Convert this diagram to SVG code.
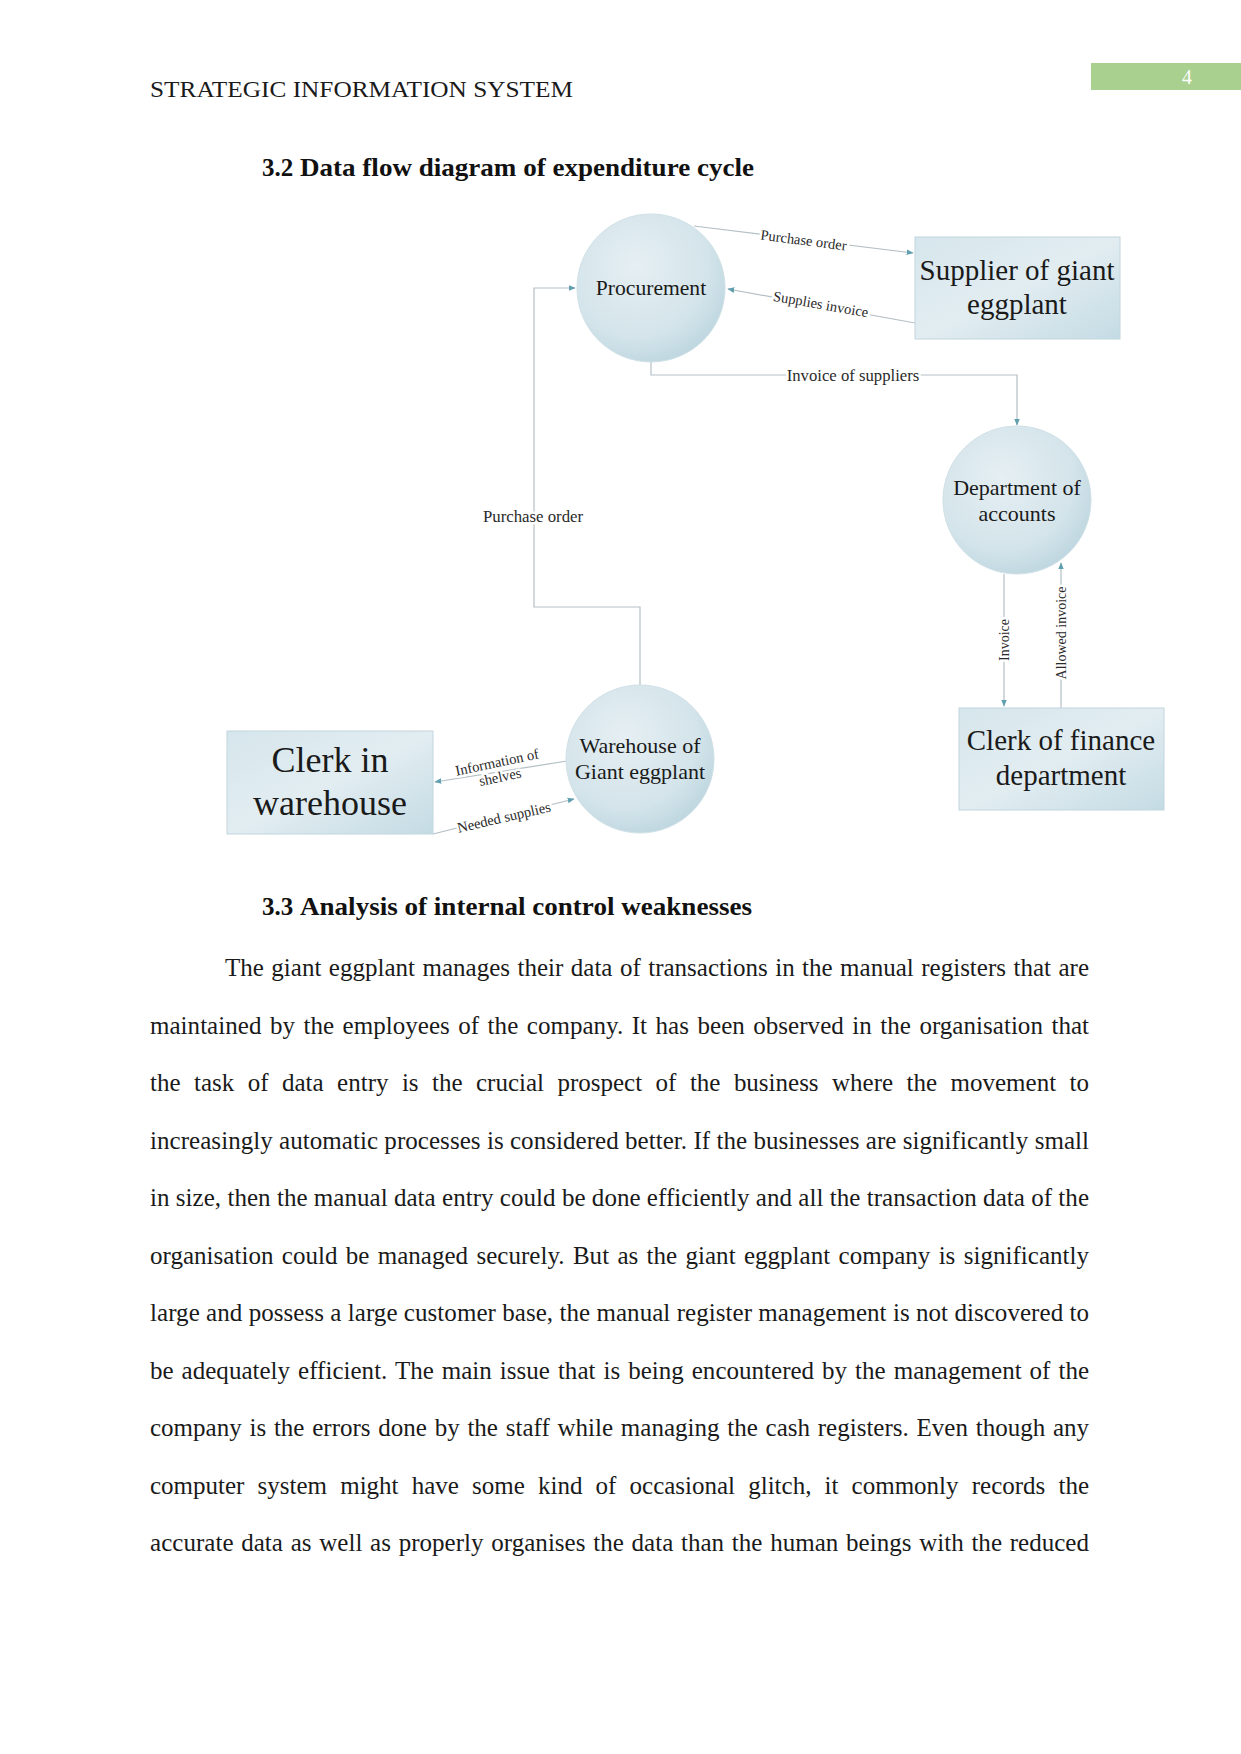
<svg xmlns="http://www.w3.org/2000/svg" width="1241" height="1754" viewBox="0 0 1241 1754">
<defs>
<radialGradient id="cg" cx="40%" cy="35%" r="70%">
<stop offset="0" stop-color="#e6eff3"/>
<stop offset="0.7" stop-color="#d3e4ea"/>
<stop offset="1" stop-color="#bcd5df"/>
</radialGradient>
<linearGradient id="bg" x1="0" y1="0" x2="1" y2="1">
<stop offset="0" stop-color="#d6e6ec"/>
<stop offset="0.5" stop-color="#e2edf1"/>
<stop offset="1" stop-color="#c4dbe4"/>
</linearGradient>
<marker id="ar" viewBox="0 0 10 10" refX="9" refY="5" markerWidth="7" markerHeight="7" orient="auto-start-reverse" markerUnits="userSpaceOnUse">
<path d="M0,1 L10,5 L0,9 Z" fill="#5f9fae"/>
</marker>
<style>
.proc{fill:url(#cg);stroke:#cfe0e6;stroke-width:1}
.ext{fill:url(#bg);stroke:#c2d6de;stroke-width:1}
.nt{font-family:"Liberation Serif",serif;fill:#1a1a1a;text-anchor:middle}
.cn{fill:none;stroke:#b4c0c5;stroke-width:1.2}
.lb{font-family:"Liberation Serif",serif;fill:#2a2a2a;text-anchor:middle;stroke:#fff;stroke-width:5;paint-order:stroke;stroke-linejoin:round}
.body{font-family:"Liberation Serif",serif;font-size:25px;fill:#1a1a1a}
.hd{font-family:"Liberation Serif",serif;font-size:25px;font-weight:bold;fill:#111}
</style>
</defs>
<rect width="1241" height="1754" fill="#fff"/>
<g id="header">
<text x="150" y="97" font-family="Liberation Serif, serif" font-size="23" fill="#1a1a1a" textLength="423" lengthAdjust="spacingAndGlyphs">STRATEGIC INFORMATION SYSTEM</text>
<rect x="1091" y="63" width="150" height="27" fill="#a9d08e"/>
<text x="1187" y="84" font-family="Liberation Serif, serif" font-size="20" fill="#fff" text-anchor="middle">4</text>
</g>
<g id="heading1"><text class="hd" x="262" y="176">3.2</text><text class="hd" x="300" y="176" textLength="454" lengthAdjust="spacingAndGlyphs">Data flow diagram of expenditure cycle</text></g>

<g id="connectors">
<line class="cn" x1="694" y1="226" x2="913" y2="253" marker-end="url(#ar)"/>
<line class="cn" x1="915" y1="323" x2="728" y2="289" marker-end="url(#ar)"/>
<polyline class="cn" points="651,362 651,375 1017,375 1017,425" marker-end="url(#ar)"/>
<polyline class="cn" points="640,685 640,607 534,607 534,288 575,288" marker-end="url(#ar)"/>
<line class="cn" x1="1004" y1="574" x2="1004" y2="706" marker-end="url(#ar)"/>
<line class="cn" x1="1061" y1="708" x2="1061" y2="563" marker-end="url(#ar)"/>
<line class="cn" x1="567" y1="761" x2="435" y2="782" marker-end="url(#ar)"/>
<line class="cn" x1="433" y1="834" x2="574" y2="799" marker-end="url(#ar)"/>
<text class="lb" font-size="14.5" transform="translate(803,245) rotate(7.3)">Purchase order</text>
<text class="lb" font-size="14.5" transform="translate(820,309) rotate(10)">Supplies invoice</text>
<text class="lb" font-size="16.7" x="853" y="381">Invoice of suppliers</text>
<text class="lb" font-size="16.8" x="533" y="522">Purchase order</text>
<text class="lb" font-size="14" transform="translate(1009,640) rotate(-90)">Invoice</text>
<text class="lb" font-size="14" transform="translate(1066,633) rotate(-90)">Allowed invoice</text>
<text class="lb" font-size="14.5" transform="translate(498,767) rotate(-12)"><tspan x="0" dy="0">Information of</tspan><tspan x="0" dy="15">shelves</tspan></text>
<text class="lb" font-size="14.5" transform="translate(505,822) rotate(-13)">Needed supplies</text>
</g>

<g id="procurement"><circle class="proc" cx="651" cy="288" r="74"/><text class="nt" font-size="21.6" x="651" y="295">Procurement</text></g>
<g id="supplier"><rect class="ext" x="915" y="237" width="205" height="102"/><text class="nt" font-size="29" x="1017" y="280">Supplier of giant</text><text class="nt" font-size="29" x="1017" y="314">eggplant</text></g>
<g id="accounts"><circle class="proc" cx="1017" cy="500" r="74"/><text class="nt" font-size="22" x="1017" y="495">Department of</text><text class="nt" font-size="22" x="1017" y="521">accounts</text></g>
<g id="finance"><rect class="ext" x="959" y="708" width="205" height="102"/><text class="nt" font-size="29" x="1061" y="750">Clerk of finance</text><text class="nt" font-size="29" x="1061" y="785">department</text></g>
<g id="warehouse"><circle class="proc" cx="640" cy="759" r="74"/><text class="nt" font-size="22" x="640" y="753">Warehouse of</text><text class="nt" font-size="22" x="640" y="779">Giant eggplant</text></g>
<g id="clerkwh"><rect class="ext" x="227" y="731" width="206" height="103"/><text class="nt" font-size="36" x="330" y="772">Clerk in</text><text class="nt" font-size="36" x="330" y="815">warehouse</text></g>

<g id="heading2"><text class="hd" x="262" y="915">3.3</text><text class="hd" x="300" y="915" textLength="452" lengthAdjust="spacingAndGlyphs">Analysis of internal control weaknesses</text></g>
<g id="body">
<text class="body" x="225" y="976" word-spacing="1.2" textLength="864" lengthAdjust="spacing">The giant eggplant manages their data of transactions in the manual registers that are</text>
<text class="body" x="150" y="1033.5" word-spacing="2.2" textLength="939" lengthAdjust="spacing">maintained by the employees of the company. It has been observed in the organisation that</text>
<text class="body" x="150" y="1091" word-spacing="7.2" textLength="939" lengthAdjust="spacing">the task of data entry is the crucial prospect of the business where the movement to</text>
<text class="body" x="150" y="1148.5" textLength="939" lengthAdjust="spacing">increasingly automatic processes is considered better. If the businesses are significantly small</text>
<text class="body" x="150" y="1206" textLength="939" lengthAdjust="spacing">in size, then the manual data entry could be done efficiently and all the transaction data of the</text>
<text class="body" x="150" y="1263.5" word-spacing="2" textLength="939" lengthAdjust="spacing">organisation could be managed securely. But as the giant eggplant company is significantly</text>
<text class="body" x="150" y="1321" textLength="939" lengthAdjust="spacing">large and possess a large customer base, the manual register management is not discovered to</text>
<text class="body" x="150" y="1378.5" word-spacing="1.7" textLength="939" lengthAdjust="spacing">be adequately efficient. The main issue that is being encountered by the management of the</text>
<text class="body" x="150" y="1436" word-spacing="1.5" textLength="939" lengthAdjust="spacing">company is the errors done by the staff while managing the cash registers. Even though any</text>
<text class="body" x="150" y="1493.5" word-spacing="6.9" textLength="939" lengthAdjust="spacing">computer system might have some kind of occasional glitch, it commonly records the</text>
<text class="body" x="150" y="1551" word-spacing="1.4" textLength="939" lengthAdjust="spacing">accurate data as well as properly organises the data than the human beings with the reduced</text>
</g>
</svg>
